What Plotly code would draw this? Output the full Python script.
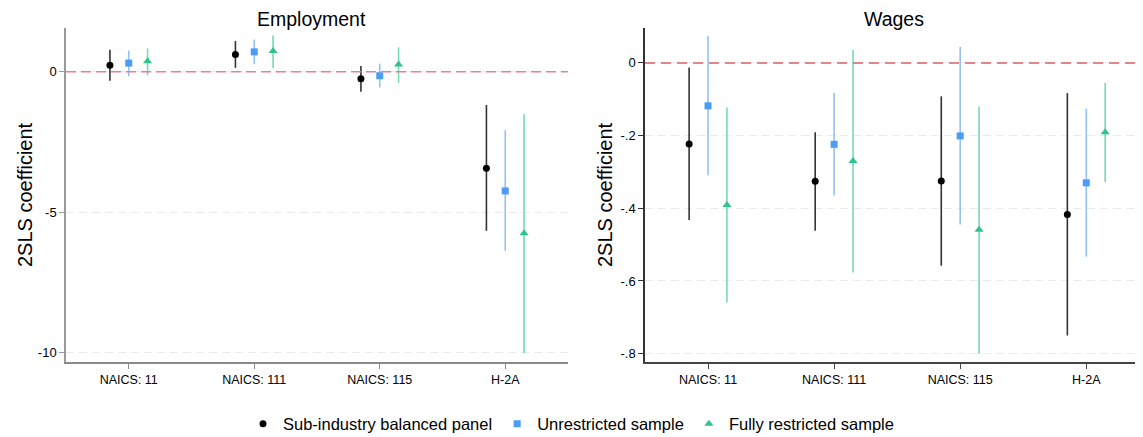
import plotly.graph_objects as go

categories = ["NAICS: 11", "NAICS: 111", "NAICS: 115", "H-2A"]
series_names = ["Sub-industry balanced panel", "Unrestricted sample", "Fully restricted sample"]

# Employment: point estimates and 95% CI bounds
emp_balanced = [0.23, 0.62, -0.25, -3.43]
emp_balanced_lo = [-0.32, 0.14, -0.71, -5.66]
emp_balanced_hi = [0.79, 1.10, 0.21, -1.18]
emp_unres = [0.31, 0.71, -0.14, -4.24]
emp_unres_lo = [-0.16, 0.27, -0.56, -6.37]
emp_unres_hi = [0.76, 1.15, 0.29, -2.08]
emp_full = [0.38, 0.74, 0.26, -5.75]
emp_full_lo = [-0.12, 0.13, -0.39, -10.02]
emp_full_hi = [0.83, 1.29, 0.87, -1.51]

# Wages: point estimates and 95% CI bounds
wage_balanced = [-0.223, -0.326, -0.325, -0.417]
wage_balanced_lo = [-0.432, -0.462, -0.558, -0.750]
wage_balanced_hi = [-0.013, -0.191, -0.092, -0.083]
wage_unres = [-0.118, -0.224, -0.201, -0.330]
wage_unres_lo = [-0.309, -0.365, -0.445, -0.533]
wage_unres_hi = [0.075, -0.083, 0.044, -0.126]
wage_full = [-0.391, -0.270, -0.459, -0.191]
wage_full_lo = [-0.659, -0.577, -0.800, -0.328]
wage_full_hi = [-0.123, 0.036, -0.120, -0.055]

emp_ticks = [0, -5, -10]
emp_ticklabels = ["0", "-5", "-10"]
wage_ticks = [0, -0.2, -0.4, -0.6, -0.8]
wage_ticklabels = ["0", "-.2", "-.4", "-.6", "-.8"]

FONT = "Liberation Sans, Arial, Helvetica, sans-serif"
marker_colors = ["#000000", "#4b9cf5", "#2ec48c"]
ci_colors = ["#333333", "#93c1f6", "#74dbb2"]
symbols = ["circle", "square", "triangle-up"]
sizes = [7, 7, 8]
offsets = [-0.15, 0.0, 0.15]

fig = go.Figure()

emp_sets = [(emp_balanced, emp_balanced_lo, emp_balanced_hi),
            (emp_unres, emp_unres_lo, emp_unres_hi),
            (emp_full, emp_full_lo, emp_full_hi)]
wage_sets = [(wage_balanced, wage_balanced_lo, wage_balanced_hi),
             (wage_unres, wage_unres_lo, wage_unres_hi),
             (wage_full, wage_full_lo, wage_full_hi)]

base_x = list(range(1, len(categories) + 1))

for panel, sets in enumerate([emp_sets, wage_sets]):
    xa = "x" if panel == 0 else "x2"
    ya = "y" if panel == 0 else "y2"
    for i, (vals, lo, hi) in enumerate(sets):
        xs = [b + offsets[i] for b in base_x]
        fig.add_trace(go.Scatter(
            x=xs, y=vals, mode="markers", xaxis=xa, yaxis=ya,
            name=series_names[i], showlegend=(panel == 0),
            marker=dict(symbol=symbols[i], size=sizes[i], color=marker_colors[i]),
            error_y=dict(type="data", symmetric=False,
                         array=[h - v for h, v in zip(hi, vals)],
                         arrayminus=[v - l for l, v in zip(lo, vals)],
                         color=ci_colors[i], thickness=1.6, width=0),
        ))

left_dom = [0.0, 0.4661]
right_dom = [0.5376, 1.0]

common_x = dict(tickmode="array", tickvals=base_x, ticktext=categories,
                showgrid=False, zeroline=False, ticks="outside", ticklen=5,
                tickfont=dict(family=FONT, size=12.5, color="#000"),
                showline=True, linewidth=1.5, automargin=False)

GRID_DASH = "8px,5px"

# The page body has an 8px margin, so the figure is drawn 8px smaller and
# positioned with that offset in mind.
fig.update_layout(
    width=1135, height=429,
    margin=dict(l=58, r=0, t=20, b=75, autoexpand=False),
    paper_bgcolor="white", plot_bgcolor="white",
    font=dict(family=FONT, color="#000"),
    xaxis=dict(domain=left_dom, range=[0.5, 4.5], anchor="y",
               linecolor="#8a8a8a", tickcolor="#8a8a8a", **common_x),
    xaxis2=dict(domain=right_dom, range=[0.5, 4.45], anchor="y2",
                linecolor="#444444", tickcolor="#444444", **common_x),
    yaxis=dict(domain=[0, 1], range=[-10.33, 1.56], anchor="x",
               tickmode="array", tickvals=emp_ticks, ticktext=emp_ticklabels,
               showgrid=True, gridcolor="#ebebeb", griddash=GRID_DASH, gridwidth=1,
               zeroline=False, showline=True, linecolor="#999999", linewidth=1.5,
               ticks="outside", ticklen=5, tickcolor="#999999", automargin=False,
               tickfont=dict(family=FONT, size=13, color="#000")),
    yaxis2=dict(domain=[0, 1], range=[-0.823, 0.096], anchor="x2",
                tickmode="array", tickvals=wage_ticks, ticktext=wage_ticklabels,
                showgrid=True, gridcolor="#ebebeb", griddash=GRID_DASH, gridwidth=1,
                zeroline=False, showline=True, linecolor="#333333", linewidth=1.5,
                ticks="outside", ticklen=5, tickcolor="#333333", automargin=False,
                tickfont=dict(family=FONT, size=13, color="#000")),
    showlegend=True,
    legend=dict(orientation="h", x=(571 - 66) / 1077, xanchor="center",
                y=(362 - 424) / 334, yanchor="middle", itemwidth=30,
                font=dict(family=FONT, size=16.5, color="#000"),
                bgcolor="rgba(0,0,0,0)"),
)

# zero reference lines
fig.add_shape(type="line", xref="x domain", yref="y", x0=0, x1=1, y0=0, y1=0,
              line=dict(color="#ea7f9b", width=1.5, dash="10px,5px"), layer="above")
fig.add_shape(type="line", xref="x2 domain", yref="y2", x0=0, x1=1, y0=0, y1=0,
              line=dict(color="#d9606c", width=1.5, dash="10px,6px"), layer="above")

# panel titles
fig.add_annotation(text="Employment", xref="x domain", yref="paper", x=0.49, y=1,
                   yshift=9, showarrow=False, yanchor="middle",
                   font=dict(family=FONT, size=19.5, color="#000"))
fig.add_annotation(text="Wages", xref="x2 domain", yref="paper", x=0.5, y=1,
                   yshift=9, showarrow=False, yanchor="middle",
                   font=dict(family=FONT, size=19.5, color="#000"))

# y-axis titles
fig.add_annotation(text="2SLS coefficient", xref="paper", yref="paper",
                   x=(25 - 66) / 1077, y=0.5, textangle=-90, showarrow=False,
                   xanchor="center", yanchor="middle",
                   font=dict(family=FONT, size=20, color="#000"))
fig.add_annotation(text="2SLS coefficient", xref="paper", yref="paper",
                   x=(605 - 66) / 1077, y=0.5, textangle=-90, showarrow=False,
                   xanchor="center", yanchor="middle",
                   font=dict(family=FONT, size=20, color="#000"))

fig.write_html("out.html")
